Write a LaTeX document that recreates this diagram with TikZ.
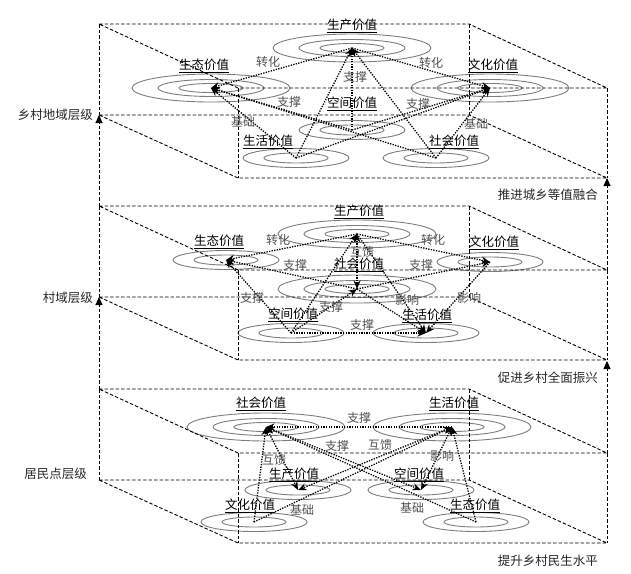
\documentclass[tikz,border=0pt]{standalone}
\usepackage{fontspec}
\newfontfamily\cjk{Noto Sans CJK SC}
\usetikzlibrary{arrows.meta}
\definecolor{ringgray}{RGB}{125,125,125}
\definecolor{relgray}{RGB}{80,80,80}

\begin{document}
\begin{tikzpicture}[x=1pt,y=-1pt,>={Stealth[length=8.5pt,width=7pt]},
  font=\cjk\fontsize{12.5}{14}\selectfont,line cap=butt,
  boxline/.style={line width=0.9pt,dash pattern=on 3.5pt off 2pt},
  axis/.style={boxline,-{Triangle[length=8pt,width=7pt]}},
  ring/.style={ringgray,line width=0.9pt},
  link/.style={line width=1.3pt,dash pattern=on 1.3pt off 1.3pt},
  val/.style={inner sep=1pt},
  rel/.style={relgray,inner sep=0pt,font=\cjk\fontsize{12}{14}\selectfont},
  lvl/.style={text=black!85,inner sep=0pt}]
\useasboundingbox (0,0) rectangle (631,573);

% value points
\coordinate (p1) at (352,48);  \coordinate (e1) at (211,88);  \coordinate (c1) at (490,88);
\coordinate (s1) at (352,130); \coordinate (l1) at (296,158); \coordinate (o1) at (436,158);
\coordinate (p2) at (357,234); \coordinate (e2) at (226,260); \coordinate (c2) at (490,262);
\coordinate (o2) at (357,289); \coordinate (s2) at (291,333); \coordinate (l2) at (426,333);
\coordinate (o3) at (266,427); \coordinate (l3) at (452,427); \coordinate (p3) at (298,490);
\coordinate (s3) at (421,490); \coordinate (c3) at (254,522); \coordinate (e3) at (476,522);

% rings
\foreach \pt in {p1,e1,c1,p2,o2,o3,l3}
  \draw[ring] (\pt) ellipse[x radius=79pt,y radius=14pt]
              (\pt) ellipse[x radius=53pt,y radius=8.5pt]
              (\pt) ellipse[x radius=32pt,y radius=4.5pt];
\foreach \pt in {s1,l1,o1,e2,c2,s2,l2,p3,s3,c3,e3}
  \draw[ring] (\pt) ellipse[x radius=53pt,y radius=9.5pt]
              (\pt) ellipse[x radius=32pt,y radius=5pt];

% boxes
\foreach \dy in {0,182,365}{
  \draw[boxline] (99,24+\dy) -- (469,24+\dy) -- (607,88+\dy) -- (238,88+\dy) -- cycle;
  \draw[boxline] (99,115+\dy) -- (469,115+\dy) -- (607,178+\dy) -- (238,178+\dy) -- cycle;
  \draw[boxline] (99,24+\dy) -- (99,115+\dy) (469,24+\dy) -- (469,115+\dy)
                 (238,88+\dy) -- (238,178+\dy) (607,88+\dy) -- (607,178+\dy);
}
\draw[axis] (99,206) -- (99,115);
\draw[axis] (99,389) -- (99,297);
\draw[axis] (607,270) -- (607,178);
\draw[axis] (607,453) -- (607,361);

% levels
\node[lvl,anchor=east] (lv1) at (93,115) {乡村地域层级};
\node[lvl,anchor=east] (lv2) at (93,298) {村域层级};
\node[lvl,anchor=east] (lv3) at (87,474) {居民点层级};
\node[lvl,anchor=east] (gl1) at (598,195) {推进城乡等值融合};
\node[lvl,anchor=east] (gl2) at (598,378) {促进乡村全面振兴};
\node[lvl,anchor=east] (gl3) at (598,561) {提升乡村民生水平};

% layer 1
\node[val] (p1t) at (352,26) {\underline{生产价值}};
\node[val] (e1t) at (204,66) {\underline{生态价值}};
\node[val] (c1t) at (493,66) {\underline{文化价值}};
\node[val] (s1t) at (352,104) {\underline{空间价值}};
\node[val] (l1t) at (268,142) {\underline{生活价值}};
\node[val] (o1t) at (454,142) {\underline{社会价值}};
\draw[link,->] (p1) -- (e1);
\draw[link,->] (p1) -- (c1);
\draw[link,->] (s1) -- (p1);
\draw[link,->] (s1) -- (e1);
\draw[link,->] (s1) -- (c1);
\draw[link,->] (l1) -- (e1);
\draw[link,->] (o1) -- (c1);
\draw[link,->] (l1) -- (p1);
\draw[link,->] (o1) -- (p1);
\draw[link,->] (o1) -- (e1);
\draw[link,->] (l1) -- (c1);
\node[rel] at (268,62) {转化};
\node[rel] at (431,63) {转化};
\node[rel] at (355,77) {支撑};
\node[rel] at (289,102) {支撑};
\node[rel] at (418,104) {支撑};
\node[rel] at (243,122) {基础};
\node[rel] at (476,124) {基础};

% layer 2
\node[val] (p2t) at (359,212) {\underline{生产价值}};
\node[val] (e2t) at (219,242) {\underline{生态价值}};
\node[val] (c2t) at (494,243) {\underline{文化价值}};
\node[val] (o2t) at (359,265) {\underline{社会价值}};
\node[val] (s2t) at (293,315) {\underline{空间价值}};
\node[val] (l2t) at (427,316) {\underline{生活价值}};
\draw[link,->] (p2) -- (e2);
\draw[link,->] (p2) -- (c2);
\draw[link,<->] (o2) -- (p2);
\draw[link,->] (o2) -- (e2);
\draw[link,->] (o2) -- (c2);
\draw[link,->] (s2) -- (e2);
\draw[link,->] (s2) -- (o2);
\draw[link,->] (s2) -- (l2);
\draw[link,->] (o2) -- (l2);
\draw[link,->] (c2) -- (l2);
\draw[link,->] (s2) -- (p2);
\draw[link,->] (p2) -- (l2);
\node[rel] at (278,240) {转化};
\node[rel] at (433,240) {转化};
\node[rel] at (362,252) {互馈};
\node[rel] at (295,265) {支撑};
\node[rel] at (421,265) {支撑};
\node[rel] at (252,298) {支撑};
\node[rel] at (331,307) {支撑};
\node[rel] at (362,325) {支撑};
\node[rel] at (407,300) {影响};
\node[rel] at (469,298) {影响};

% layer 3
\node[val] (o3t) at (261,404) {\underline{社会价值}};
\node[val] (l3t) at (454,404) {\underline{生活价值}};
\node[val] (p3t) at (294,475) {\underline{生产价值}};
\node[val] (s3t) at (419,475) {\underline{空间价值}};
\node[val] (c3t) at (250,506) {\underline{文化价值}};
\node[val] (e3t) at (475,506) {\underline{生态价值}};
\draw[link,->] (l3) -- (o3);
\draw[link,<->] (o3) -- (s3);
\draw[link,<->] (l3) -- (p3);
\draw[link,<->] (o3) -- (p3);
\draw[link,->] (c3) -- (o3);
\draw[link,->] (c3) -- (l3);
\draw[link,->] (e3) -- (o3);
\draw[link,->] (e3) -- (l3);
\draw[link,<->] (s3) -- (l3);
\node[rel] at (359,418) {支撑};
\node[rel] at (337,446) {支撑};
\node[rel] at (380,445) {互馈};
\node[rel] at (274,460) {互馈};
\node[rel] at (302,510) {基础};
\node[rel] at (412,508) {基础};
\node[rel] at (442,456) {影响};
\end{tikzpicture}
\end{document}
